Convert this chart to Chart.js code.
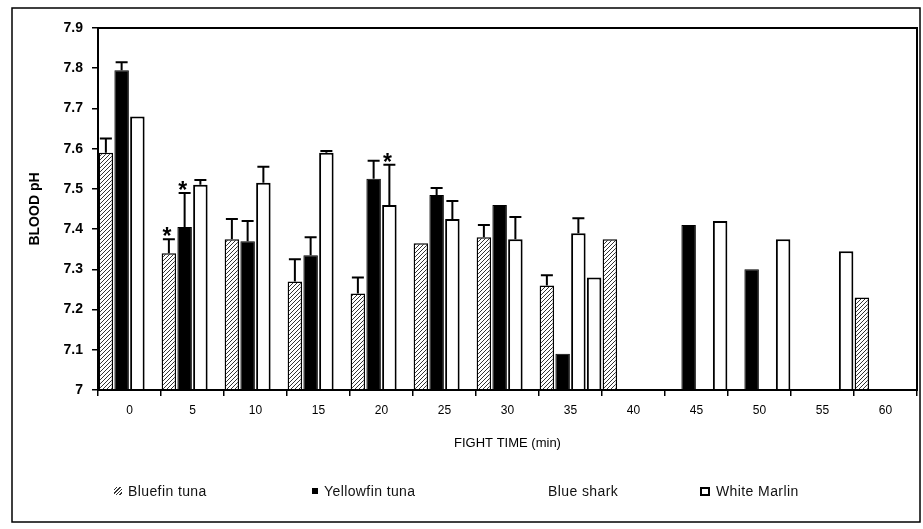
<!DOCTYPE html>
<html>
<head>
<meta charset="utf-8">
<script src="https://cdn.jsdelivr.net/npm/chart.js@4.4.1/dist/chart.umd.min.js"></script>
<style>
  body { margin: 0; background: #fff; }
  #wrap { position: relative; width: 923px; height: 529px; }
  #legend { position: absolute; top: 482px; left: 0; width: 923px; height: 18px;
            font: 14px "Liberation Sans", Arial, sans-serif; letter-spacing: 0.4px; color: #111; }
  .item { position: absolute; top: 0; height: 18px; display: flex; align-items: center; white-space: nowrap; }
  .sw { display: inline-block; margin-right: 6px; box-sizing: border-box; }
</style>
</head>
<body>
<div id="wrap">
  <canvas id="chart" width="923" height="529"></canvas>
  <div id="legend"></div>
</div>
<script>
// categories and tick labels
const fightTimes = ['0', '5', '10', '15', '20', '25', '30', '35', '40', '45', '50', '55', '60'];
const yTickLabels = ['7', '7.1', '7.2', '7.3', '7.4', '7.5', '7.6', '7.7', '7.8', '7.9'];
const seriesNames = ['Bluefin tuna', 'Yellowfin tuna', 'Blue shark', 'White Marlin'];

// mean blood pH per fight time (null = no sample)
const bluefin      = [7.59, 7.34, 7.375, 7.27, 7.24, 7.365, 7.38, 7.26, 7.375, null, null, null, 7.23];
const yellowfin    = [7.795, 7.405, 7.37, 7.335, 7.525, 7.485, 7.46, 7.09, null, 7.41, 7.3, null, null];
const blueShark    = [7.68, 7.51, 7.515, 7.59, 7.46, 7.425, 7.375, 7.39, null, null, null, null, null];
const whiteMarlin  = [null, null, null, null, null, null, null, 7.28, null, 7.42, 7.375, 7.345, null];

// upper error (SE) per bar
const bluefinErr     = [0.035, 0.035, 0.05, 0.055, 0.04, 0, 0.03, 0.025, 0, 0, 0, 0, 0];
const yellowfinErr   = [0.02, 0.085, 0.05, 0.045, 0.045, 0.017, 0, 0, 0, 0, 0, 0, 0];
const blueSharkErr   = [0, 0.012, 0.04, 0.004, 0.1, 0.045, 0.055, 0.037, 0, 0, 0, 0, 0];
const whiteMarlinErr = [0, 0, 0, 0, 0, 0, 0, 0, 0, 0, 0, 0, 0];

// significance stars: [dataset index, category index]
const stars = [[0, 1], [1, 1], [2, 4]];

const FONT = '"Liberation Sans", Arial, sans-serif';

function makeHatch() {
    const c = document.createElement('canvas');
    c.width = 4; c.height = 4;
    const g = c.getContext('2d');
    g.fillStyle = '#fff';
    g.fillRect(0, 0, 4, 4);
    g.strokeStyle = '#333';
    g.lineWidth = 1;
    g.beginPath();
    g.moveTo(0, 4); g.lineTo(4, 0);
    g.moveTo(-1, 1); g.lineTo(1, -1);
    g.moveTo(3, 5); g.lineTo(5, 3);
    g.stroke();
    return g.createPattern(c, 'repeat');
}
const hatch = makeHatch();

// error bars and stars
const errorBars = {
    id: 'errorBars',
    afterDatasetsDraw(chart) {
        const ctx = chart.ctx;
        const y = chart.scales.y;
        ctx.save();
        ctx.strokeStyle = '#000';
        ctx.lineWidth = 2;
        chart.data.datasets.forEach((ds, i) => {
            const meta = chart.getDatasetMeta(i);
            ds.err.forEach((e, j) => {
                if (!e || ds.data[j] == null) return;
                const bar = meta.data[j];
                const top = y.getPixelForValue(ds.data[j] + e);
                ctx.beginPath();
                ctx.moveTo(bar.x, bar.y);
                ctx.lineTo(bar.x, top);
                ctx.moveTo(bar.x - 6, top);
                ctx.lineTo(bar.x + 6, top);
                ctx.stroke();
            });
        });
        ctx.fillStyle = '#000';
        ctx.font = 'bold 23px ' + FONT;
        ctx.textAlign = 'center';
        ctx.textBaseline = 'alphabetic';
        stars.forEach(([i, j]) => {
            const ds = chart.data.datasets[i];
            const bar = chart.getDatasetMeta(i).data[j];
            const top = y.getPixelForValue(ds.data[j] + ds.err[j]);
            ctx.fillText('*', bar.x - 2, top + 5);
        });
        ctx.restore();
    }
};

// plot box and outer frame
const frames = {
    id: 'frames',
    afterDraw(chart) {
        const ctx = chart.ctx;
        const a = chart.chartArea;
        ctx.save();
        ctx.strokeStyle = '#000';
        ctx.lineWidth = 2;
        ctx.strokeRect(a.left, a.top, a.right - a.left, a.bottom - a.top);
        ctx.lineWidth = 1.5;
        ctx.strokeRect(12, 8, 908, 514);
        ctx.restore();
    }
};

const ctx = document.getElementById('chart').getContext('2d');
new Chart(ctx, {
    type: 'bar',
    data: {
        labels: fightTimes,
        datasets: [
            { label: seriesNames[0], data: bluefin, err: bluefinErr,
              backgroundColor: hatch, borderColor: '#000', borderWidth: 1.5 },
            { label: seriesNames[1], data: yellowfin, err: yellowfinErr,
              backgroundColor: '#000', borderColor: '#000', borderWidth: 1 },
            { label: seriesNames[2], data: blueShark, err: blueSharkErr,
              backgroundColor: '#fff', borderColor: '#000', borderWidth: 2 },
            { label: seriesNames[3], data: whiteMarlin, err: whiteMarlinErr,
              backgroundColor: '#fff', borderColor: '#000', borderWidth: 2 }
        ]
    },
    options: {
        responsive: false,
        animation: false,
        barPercentage: 0.92,
        categoryPercentage: 1,
        layout: { padding: { left: 0, right: 6, top: 28, bottom: 77 } },
        plugins: {
            legend: { display: false },
            tooltip: { enabled: false }
        },
        scales: {
            x: {
                afterFit(scale) { scale.height = 62; },
                grid: { drawOnChartArea: false, drawTicks: true, tickLength: 6, color: '#000', lineWidth: 1.5, offset: true },
                border: { display: true, color: '#000', width: 2 },
                ticks: { color: '#000', font: { family: FONT, size: 12 }, padding: 7, maxRotation: 0 },
                title: { display: true, text: 'FIGHT TIME (min)', color: '#000',
                         font: { family: FONT, size: 13 }, padding: { top: 0, bottom: 1 } }
            },
            y: {
                min: 7,
                max: 7.9,
                afterFit(scale) { scale.width = 98; },
                grid: { drawOnChartArea: false, drawTicks: true, tickLength: 6, color: '#000', lineWidth: 1.5 },
                border: { display: true, color: '#000', width: 2 },
                ticks: {
                    stepSize: 0.1,
                    color: '#000',
                    padding: 9,
                    font: { family: FONT, size: 14, weight: 'bold' },
                    callback: (v, i) => yTickLabels[i]
                },
                title: { display: true, text: 'BLOOD pH', color: '#000',
                         font: { family: FONT, size: 14, weight: 'bold' }, padding: { top: 27, bottom: 0 } }
            }
        }
    },
    plugins: [errorBars, frames]
});

// legend, laid out like the original
const legendLeft = [114, 312, 548, 700];
const legend = document.getElementById('legend');
seriesNames.forEach((name, i) => {
    const item = document.createElement('div');
    item.className = 'item';
    item.style.left = legendLeft[i] + 'px';
    if (i !== 2) {
        const sw = document.createElement('span');
        sw.className = 'sw';
        if (i === 0) {
            sw.style.width = '8px'; sw.style.height = '8px';
            sw.style.background = 'repeating-linear-gradient(135deg, #fff 0 1.5px, #333 1.5px 2.5px)';
        } else if (i === 1) {
            sw.style.width = '6px'; sw.style.height = '6px';
            sw.style.background = '#000';
        } else {
            sw.style.width = '10px'; sw.style.height = '9px';
            sw.style.border = '2px solid #000';
        }
        item.appendChild(sw);
    }
    item.appendChild(document.createTextNode(name));
    legend.appendChild(item);
});
</script>
</body>
</html>
